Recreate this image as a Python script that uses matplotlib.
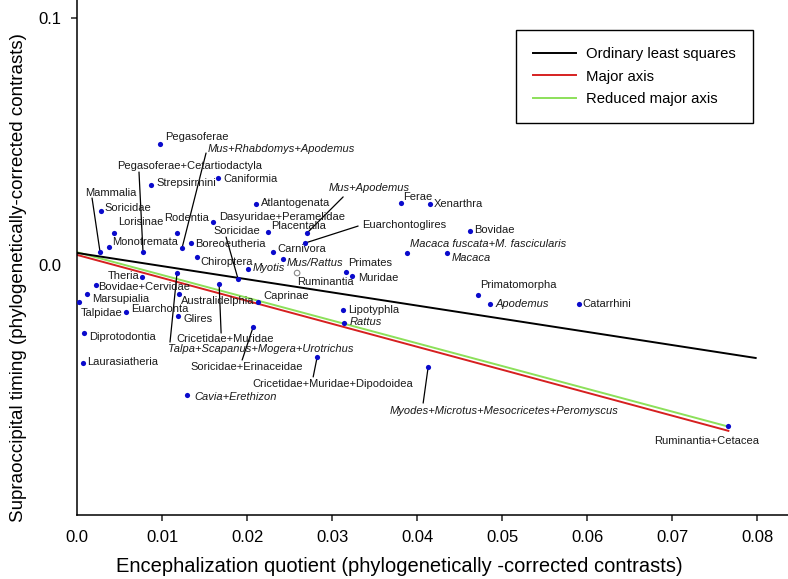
import numpy as np
import matplotlib
matplotlib.use('Agg')
import matplotlib.pyplot as plt

plt.rcParams['font.family'] = ['Liberation Sans', 'DejaVu Sans']

# ---------------- data ----------------
taxa = [
    'Pegasoferae', 'Strepsirrhini', 'Caniformia', 'Pegasoferae+Cetartiodactyla',
    'Mus+Rhabdomys+Apodemus', 'Mammalia', 'Soricidae', 'Lorisinae', 'Monotremata',
    'Rodentia', 'Boreoeutheria', 'Dasyuridae+Peramelidae', 'Soricidae ', 'Chiroptera',
    'Myotis', 'Atlantogenata', 'Placentalia', 'Mus+Apodemus', 'Euarchontoglires',
    'Carnivora', 'Mus/Rattus', 'Ruminantia', 'Primates', 'Muridae', 'Ferae',
    'Xenarthra', 'Bovidae', 'Macaca fuscata+M. fascicularis', 'Macaca',
    'Primatomorpha', 'Apodemus', 'Catarrhini', 'Theria', 'Bovidae+Cervidae',
    'Marsupialia', 'Talpidae', 'Euarchonta', 'Diprotodontia', 'Laurasiatheria',
    'Australidelphia', 'Talpa+Scapanus+Mogera+Urotrichus', 'Cricetidae+Muridae',
    'Glires', 'Caprinae', 'Soricidae+Erinaceidae', 'Lipotyphla', 'Rattus',
    'Cricetidae+Muridae+Dipodoidea', 'Cavia+Erethizon',
    'Myodes+Microtus+Mesocricetes+Peromyscus', 'Ruminantia+Cetacea',
]
eq = [
    0.00976, 0.00871, 0.01659, 0.00776,
    0.01235, 0.00271, 0.00282, 0.00435, 0.00376,
    0.01176, 0.01341, 0.01600, 0.01894, 0.01412,
    0.02012, 0.02106, 0.02247, 0.02706, 0.02682,
    0.02306, 0.02424, 0.02588, 0.03165, 0.03235, 0.03812,
    0.04153, 0.04624, 0.03882, 0.04353,
    0.04718, 0.04859, 0.05906, 0.00765, 0.00224,
    0.00118, 0.00024, 0.00576, 0.00082, 0.00071,
    0.01200, 0.01176, 0.01671,
    0.01188, 0.02129, 0.02071, 0.03129, 0.03141,
    0.02824, 0.01294,
    0.04129, 0.07659,
]
timing = [
    0.0490, 0.0324, 0.0352, 0.00526,
    0.00688, 0.00526, 0.0219, 0.0130, 0.00729,
    0.0130, 0.0089, 0.0174, -0.00567, 0.00324,
    -0.0018, 0.0247, 0.0134, 0.0130, 0.0089,
    0.00526, 0.00243, -0.00324, -0.00283, -0.00445, 0.0251,
    0.0247, 0.0138, 0.00486, 0.00486,
    -0.01215, -0.0158, -0.0158, -0.00486, -0.0081,
    -0.01174, -0.0150, -0.0190, -0.0275, -0.0397,
    -0.01174, -0.00324, -0.00769,
    -0.0206, -0.0150, -0.0251, -0.0182, -0.0235,
    -0.0372, -0.0526,
    -0.0413, -0.0652,
]
open_taxa = ['Ruminantia']
italic_taxa = ['Mus+Rhabdomys+Apodemus', 'Myotis', 'Mus+Apodemus', 'Mus/Rattus',
               'Macaca fuscata+M. fascicularis', 'Macaca', 'Apodemus',
               'Talpa+Scapanus+Mogera+Urotrichus', 'Rattus', 'Cavia+Erethizon',
               'Myodes+Microtus+Mesocricetes+Peromyscus']

fit_names = ['Ordinary least squares', 'Major axis', 'Reduced major axis']
fit_intercepts = [0.0049, 0.0041, 0.0052]
fit_slopes = [-0.533, -0.930, -0.922]
fit_xmax = [0.0798, max(eq), max(eq)]
fit_colors = ['black', '#d62020', '#8ce05a']

xticks = [0.0, 0.01, 0.02, 0.03, 0.04, 0.05, 0.06, 0.07, 0.08]
xticklabels = ['0.0', '0.01', '0.02', '0.03', '0.04', '0.05', '0.06', '0.07', '0.08']
yticks = [0.0, 0.1]
yticklabels = ['0.0', '0.1']

# ---------------- label layout (pixel offsets) ----------------
# name: (dx, dy, ha, leader_end or None)
layout = {
    'Pegasoferae': (5, 7, 'left', None),
    'Strepsirrhini': (5, 2, 'left', None),
    'Caniformia': (5, -1, 'left', None),
    'Pegasoferae+Cetartiodactyla': (-26, 86, 'left', (-4, 80)),
    'Mus+Rhabdomys+Apodemus': (26, 99, 'left', (24, 95)),
    'Mammalia': (-15, 59, 'left', (-8, 54)),
    'Soricidae': (4, 3, 'left', None),
    'Lorisinae': (4, 11, 'left', None),
    'Monotremata': (3, 5, 'left', None),
    'Rodentia': (-13, 15, 'left', None),
    'Boreoeutheria': (4, -1, 'left', None),
    'Dasyuridae+Peramelidae': (6, 5, 'left', None),
    'Soricidae ': (-25, 48, 'left', (-12, 42)),
    'Chiroptera': (3, -5, 'left', None),
    'Myotis': (5, 1, 'left', None),
    'Atlantogenata': (5, 1, 'left', None),
    'Placentalia': (3, 6, 'left', None),
    'Mus+Apodemus': (22, 45, 'left', (36, 36)),
    'Euarchontoglires': (57, 18, 'left', (53, 17)),
    'Carnivora': (4, 3, 'left', None),
    'Mus/Rattus': (4, -4, 'left', None),
    'Ruminantia': (0, -9, 'left', None),
    'Primates': (2, 9, 'left', None),
    'Muridae': (6, -2, 'left', None),
    'Ferae': (2, 6, 'left', None),
    'Xenarthra': (4, 0, 'left', None),
    'Bovidae': (4, 1, 'left', None),
    'Macaca fuscata+M. fascicularis': (3, 9, 'left', None),
    'Macaca': (4, -5, 'left', None),
    'Primatomorpha': (2, 10, 'left', None),
    'Apodemus': (5, 0, 'left', None),
    'Catarrhini': (3, 0, 'left', None),
    'Theria': (-3, 1, 'right', None),
    'Bovidae+Cervidae': (2, -2, 'left', None),
    'Marsupialia': (5, -5, 'left', None),
    'Talpidae': (2, -11, 'left', None),
    'Euarchonta': (5, 3, 'left', None),
    'Diprotodontia': (5, -4, 'left', None),
    'Laurasiatheria': (4, 1, 'left', None),
    'Australidelphia': (2, -7, 'left', None),
    'Talpa+Scapanus+Mogera+Urotrichus': (-9, -76, 'left', (-7, -69)),
    'Cricetidae+Muridae': (-43, -55, 'left', (2, -49)),
    'Glires': (5, -3, 'left', None),
    'Caprinae': (5, 6, 'left', None),
    'Soricidae+Erinaceidae': (-63, -40, 'left', (-11, -33)),
    'Lipotyphla': (5, 0, 'left', None),
    'Rattus': (6, 1, 'left', None),
    'Cricetidae+Muridae+Dipodoidea': (-65, -27, 'left', (-4, -20)),
    'Cavia+Erethizon': (7, -2, 'left', None),
    'Myodes+Microtus+Mesocricetes+Peromyscus': (-39, -44, 'left', (-5, -36)),
    'Ruminantia+Cetacea': (-74, -15, 'left', None),
}

# ---------------- figure ----------------
fig = plt.figure(figsize=(7.88, 5.79), dpi=100)
ax = fig.add_axes([77 / 788, 64 / 579, 711 / 788, 515 / 579])
ax.set_xlim(0, 0.0836)
ax.set_ylim(-0.1012, 0.1073)

for spine in ['top', 'right']:
    ax.spines[spine].set_visible(False)
for spine in ['left', 'bottom']:
    ax.spines[spine].set_linewidth(1.1)

# fitted lines (green under red)
order = [2, 1, 0]
handles = {}
for i in order:
    xs = np.array([0.0, fit_xmax[i]])
    ys = fit_intercepts[i] + fit_slopes[i] * xs
    ln, = ax.plot(xs, ys, color=fit_colors[i], lw=1.4, zorder=2, label=fit_names[i])
    handles[i] = ln

# leader lines
for name, x, y in zip(taxa, eq, timing):
    dx, dy, ha, lead = layout[name]
    if lead is not None:
        ax.annotate('', xy=(x, y), xytext=lead, textcoords='offset pixels',
                    arrowprops=dict(arrowstyle='-', lw=0.9, color='black',
                                    shrinkA=0, shrinkB=0), zorder=3)

# points
filled = [(x, y) for n, x, y in zip(taxa, eq, timing) if n not in open_taxa]
hollow = [(x, y) for n, x, y in zip(taxa, eq, timing) if n in open_taxa]
ax.scatter([p[0] for p in filled], [p[1] for p in filled], s=14, color='#0a0acc',
           zorder=4, linewidths=0)
ax.scatter([p[0] for p in hollow], [p[1] for p in hollow], s=16, facecolors='none',
           edgecolors='#888888', linewidths=0.8, zorder=4)

# labels
for name, x, y in zip(taxa, eq, timing):
    dx, dy, ha, lead = layout[name]
    ax.annotate(name.strip(), xy=(x, y), xytext=(dx, dy), textcoords='offset pixels',
                ha=ha, va='center', fontsize=8, color='#1a1a1a',
                style='italic' if name in italic_taxa else 'normal', zorder=5)

ax.set_xticks(xticks)
ax.set_xticklabels(xticklabels, fontsize=12)
ax.set_yticks(yticks)
ax.set_yticklabels(yticklabels, fontsize=12)
ax.tick_params(axis='both', length=4, width=1.1, pad=7, color='#222222')
ax.xaxis.get_major_ticks()[0].tick1line.set_visible(False)
ax.yaxis.get_major_ticks()[0].tick1line.set_visible(False)

ax.set_xlabel('Encephalization quotient (phylogenetically -corrected contrasts)',
              fontsize=14.5)
ax.set_ylabel('Supraoccipital timing (phylogenetically-corrected contrasts)',
              fontsize=13.5)
ax.xaxis.set_label_coords(0.454, -0.082)
ax.yaxis.set_label_coords(-0.071, 0.462)

leg = ax.legend([handles[0], handles[1], handles[2]], fit_names,
                loc='upper left', bbox_to_anchor=(0.617, 0.942), fontsize=10.7,
                frameon=True, fancybox=False, edgecolor='black', framealpha=1,
                borderpad=1.15, handlelength=2.9, handletextpad=0.7,
                labelspacing=0.58, borderaxespad=0)
leg.get_frame().set_linewidth(1.0)

fig.savefig('out.png', dpi=100)
